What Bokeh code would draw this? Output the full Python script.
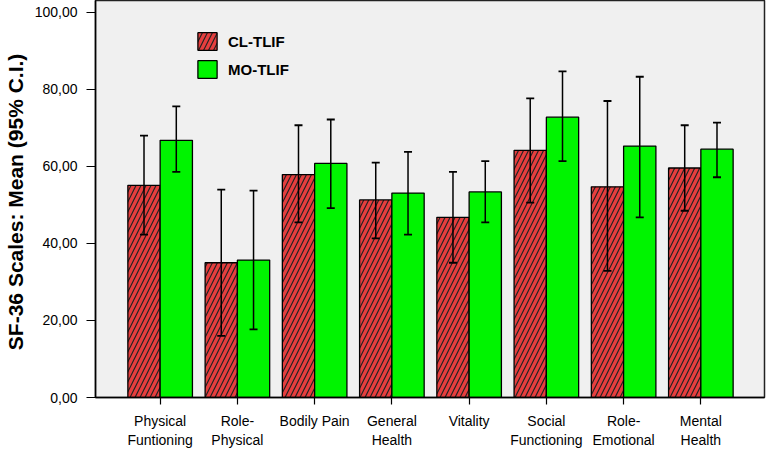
from bokeh.plotting import figure
from bokeh.models import ColumnDataSource, Whisker, TeeHead, FixedTicker, Legend, LegendItem
from bokeh.transform import dodge
from bokeh.embed import file_html
from bokeh.resources import INLINE

categories = ["Physical\nFuntioning", "Role-\nPhysical", "Bodily Pain", "General\nHealth",
              "Vitality", "Social\nFunctioning", "Role-\nEmotional", "Mental\nHealth"]
cl_mean = [55.1, 35.0, 57.9, 51.3, 46.8, 64.2, 54.7, 59.6]
cl_lo = [42.3, 16.0, 45.5, 41.3, 35.0, 50.6, 32.9, 48.5]
cl_hi = [68.0, 54.0, 70.7, 61.0, 58.6, 77.7, 77.0, 70.7]
mo_mean = [66.8, 35.7, 60.8, 53.1, 53.4, 72.8, 65.3, 64.5]
mo_lo = [58.6, 17.7, 49.2, 42.3, 45.5, 61.4, 46.8, 57.2]
mo_hi = [75.6, 53.7, 72.2, 63.8, 61.4, 84.7, 83.3, 71.4]
y_ticks = [0, 20, 40, 60, 80, 100]
y_tick_labels = ["0,00", "20,00", "40,00", "60,00", "80,00", "100,00"]
series_names = ["CL-TLIF", "MO-TLIF"]

idx = list(range(len(categories)))
src = ColumnDataSource(dict(idx=idx, cl_mean=cl_mean, cl_lo=cl_lo, cl_hi=cl_hi,
                            mo_mean=mo_mean, mo_lo=mo_lo, mo_hi=mo_hi))

FONT = "Liberation Sans"
BW = 0.418

p = figure(width=766, height=451, x_range=(-0.837, 7.824), y_range=(0, 103.1),
           output_backend="svg", toolbar_location=None,
           min_border_left=91, min_border_right=2, min_border_top=0, min_border_bottom=54,
           background_fill_color="#f0f0f0", border_fill_color="white")
p.outline_line_color = "#222222"
p.outline_line_width = 1.5
p.xgrid.visible = False
p.ygrid.visible = False

red = p.vbar(x=dodge("idx", -BW / 2, range=p.x_range), top="cl_mean", bottom=0, width=BW, source=src,
             fill_color="#e63e3e", line_color="black", line_width=1.3,
             hatch_pattern="/", hatch_color="#222222", hatch_scale=10, hatch_weight=1.2)
green = p.vbar(x=dodge("idx", BW / 2, range=p.x_range), top="mo_mean", bottom=0, width=BW, source=src,
               fill_color="#00f400", line_color="black", line_width=1.3)

for lo, hi, off in [("cl_lo", "cl_hi", -BW / 2), ("mo_lo", "mo_hi", BW / 2)]:
    w = Whisker(base=dodge("idx", off, range=p.x_range), lower=lo, upper=hi, source=src,
                level="overlay", line_color="black", line_width=1.5,
                upper_head=TeeHead(size=8, line_color="black", line_width=1.8),
                lower_head=TeeHead(size=8, line_color="black", line_width=1.8))
    p.add_layout(w)

# axes
p.xaxis.ticker = FixedTicker(ticks=idx)
p.xaxis.major_label_overrides = {i: c for i, c in zip(idx, categories)}
p.xaxis.minor_tick_line_color = None
p.xaxis.major_tick_out = 7
p.xaxis.major_tick_in = 0
p.xaxis.major_label_standoff = 8
p.xaxis.major_label_text_font = FONT
p.xaxis.major_label_text_font_size = "14px"
p.xaxis.major_label_text_color = "black"
p.xaxis.axis_line_color = "black"
p.xaxis.axis_line_width = 1.5
p.xaxis.major_tick_line_color = "black"
p.xaxis.major_tick_line_width = 1.2

p.yaxis.ticker = FixedTicker(ticks=y_ticks)
p.yaxis.major_label_overrides = {t: l for t, l in zip(y_ticks, y_tick_labels)}
p.yaxis.minor_tick_line_color = None
p.yaxis.major_tick_out = 9
p.yaxis.major_tick_in = 0
p.yaxis.major_label_standoff = 9
p.yaxis.major_label_text_font = FONT
p.yaxis.major_label_text_font_size = "14px"
p.yaxis.major_label_text_color = "black"
p.yaxis.axis_line_color = "black"
p.yaxis.axis_line_width = 1.5
p.yaxis.major_tick_line_color = "black"
p.yaxis.major_tick_line_width = 1.2
p.yaxis.axis_label = "SF-36 Scales: Mean (95%  C.I.)"
p.yaxis.axis_label_text_font = FONT
p.yaxis.axis_label_text_font_size = "21px"
p.yaxis.axis_label_text_font_style = "bold"
p.yaxis.axis_label_text_color = "black"
p.yaxis.axis_label_standoff = 5

legend = Legend(items=[LegendItem(label=series_names[0], renderers=[red]),
                       LegendItem(label=series_names[1], renderers=[green])],
                location=(100, 317), padding=0, margin=0, spacing=6,
                glyph_width=24, glyph_height=22, label_standoff=9,
                label_text_font=FONT, label_text_font_size="15px", label_text_font_style="bold",
                label_text_color="black",
                background_fill_alpha=0, border_line_alpha=0)
p.add_layout(legend, "center")

open("out.html", "w").write(file_html(p, INLINE))
